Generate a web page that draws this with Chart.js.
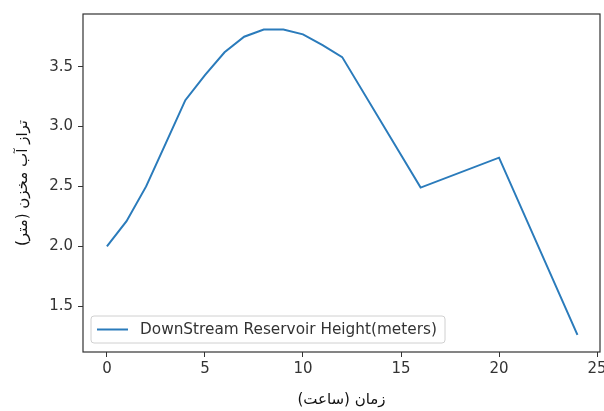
<!DOCTYPE html>
<html>
<head>
<meta charset="utf-8">
<script src="https://cdn.jsdelivr.net/npm/chart.js@4.4.1/dist/chart.umd.min.js"></script>
<style>
  html, body { margin: 0; padding: 0; background: #fff; }
  #wrap { width: 604px; height: 411px; }
</style>
</head>
<body>
<div id="wrap"><canvas id="levelChart" width="604" height="411"></canvas></div>
<script>
// ساعت‌ها و تراز آب (خوانده شده از تصویر)
const hours = [0, 1, 2, 3, 4, 5, 6, 7, 8, 9, 10, 11, 12, 16, 20, 24];
const heights = [2.00, 2.21, 2.50, 2.86, 3.22, 3.43, 3.62, 3.75, 3.81, 3.81, 3.77, 3.68, 3.58, 2.49, 2.74, 1.26];
const seriesLabel = 'DownStream Reservoir Height(meters)';
const xTitle = 'زمان (ساعت)';
const yTitle = 'تراز آب مخزن (متر)';

const tickFont = { family: 'DejaVu Sans', size: 15 };
const textColor = '#333';

// قاب دور ناحیه نمودار + راهنما داخل نمودار
const frameAndLegend = {
    id: 'frameAndLegend',
    afterDatasetsDraw(chart) {
        const { ctx, chartArea: a } = chart;
        ctx.save();
        ctx.strokeStyle = '#333';
        ctx.lineWidth = 1.2;
        ctx.strokeRect(a.left, a.top, a.right - a.left, a.bottom - a.top);

        // legend box
        const ds = chart.data.datasets[0];
        const bx = a.left + 8, by = a.bottom - 36, bw = 354, bh = 27;
        ctx.beginPath();
        ctx.roundRect(bx, by, bw, bh, 3);
        ctx.fillStyle = 'rgba(255,255,255,0.8)';
        ctx.fill();
        ctx.strokeStyle = '#d0d0d0';
        ctx.lineWidth = 1;
        ctx.stroke();

        ctx.beginPath();
        ctx.moveTo(bx + 6, by + bh / 2);
        ctx.lineTo(bx + 37, by + bh / 2);
        ctx.strokeStyle = ds.borderColor;
        ctx.lineWidth = 2;
        ctx.stroke();

        ctx.fillStyle = textColor;
        ctx.font = '15.3px "DejaVu Sans"';
        ctx.textBaseline = 'middle';
        ctx.fillText(ds.label, bx + 49, by + bh / 2 + 1);
        ctx.restore();
    }
};

const ctx = document.getElementById('levelChart').getContext('2d');
new Chart(ctx, {
    type: 'scatter',
    data: {
        datasets: [{
            label: seriesLabel,
            data: hours.map((h, i) => ({ x: h, y: heights[i] })),
            showLine: true,
            borderColor: '#2a7bbb',
            borderWidth: 2,
            pointRadius: 0,
            tension: 0
        }]
    },
    options: {
        responsive: false,
        animation: false,
        layout: { padding: { top: 14, right: 4, left: 0, bottom: 0 } },
        plugins: {
            legend: { display: false },
            tooltip: { enabled: false }
        },
        scales: {
            x: {
                type: 'linear',
                min: -1.22,
                max: 25.15,
                afterFit: (s) => {
                    s.height = 59;
                    // let the "25" label run off the edge like the original
                    s.paddingLeft = 0;
                    s.paddingRight = 0;
                },
                ticks: {
                    stepSize: 5,
                    includeBounds: false,
                    font: tickFont,
                    color: textColor,
                    padding: 3,
                    maxRotation: 0
                },
                grid: { drawOnChartArea: false, drawTicks: true, tickLength: 5, color: '#333' },
                border: { display: false },
                title: {
                    display: true,
                    text: xTitle,
                    font: { family: 'DejaVu Sans', size: 15 },
                    color: '#111',
                    padding: { top: 0, bottom: 2 }
                }
            },
            y: {
                min: 1.117,
                max: 3.94,
                afterFit: (s) => {
                    s.width = 83;
                    s.paddingTop = 0;
                    s.paddingBottom = 0;
                },
                ticks: {
                    stepSize: 0.5,
                    includeBounds: false,
                    font: tickFont,
                    color: textColor,
                    padding: 5,
                    callback: (v) => v.toFixed(1)
                },
                grid: { drawOnChartArea: false, drawTicks: true, tickLength: 5, color: '#333' },
                border: { display: false },
                title: {
                    display: true,
                    text: yTitle,
                    font: { family: 'DejaVu Sans', size: 15 },
                    color: '#111',
                    padding: { top: 14, bottom: 14 }
                }
            }
        }
    },
    plugins: [frameAndLegend]
});
</script>
</body>
</html>
